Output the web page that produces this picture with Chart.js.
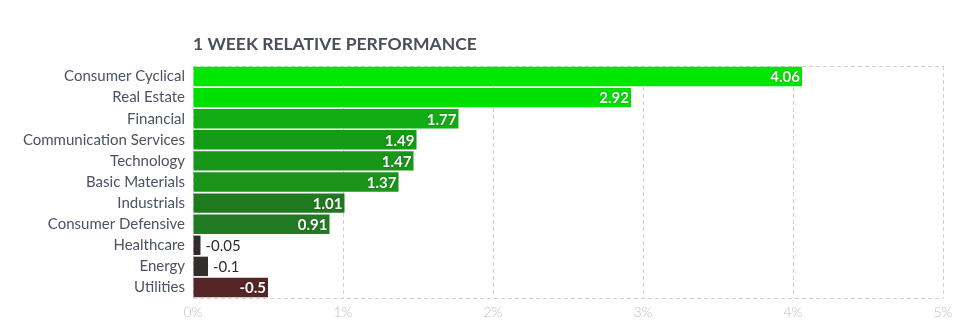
<!DOCTYPE html>
<html>
<head>
<meta charset="utf-8">
<script src="https://cdn.jsdelivr.net/npm/chart.js@4.4.1/dist/chart.umd.min.js"></script>
<style>
  html, body { margin: 0; padding: 0; background: #fff; }
  #wrap { position: relative; width: 975px; height: 332px; }
</style>
</head>
<body>
<div id="wrap"><canvas id="perfChart" width="975" height="332"></canvas></div>
<script>
// 1 week relative performance by sector (%)
const sectors = [
  "Consumer Cyclical", "Real Estate", "Financial", "Communication Services",
  "Technology", "Basic Materials", "Industrials", "Consumer Defensive",
  "Healthcare", "Energy", "Utilities"
];
const weekChange = [4.06, 2.92, 1.77, 1.49, 1.47, 1.37, 1.01, 0.91, -0.05, -0.1, -0.5];
const barColors = [
  "#00e600", "#00e000", "#12ad12", "#159a15", "#179617", "#1a951a",
  "#1f7a1f", "#227a22", "#332b2b", "#332e2e", "#562525"
];
const xTicks = ["0%", "1%", "2%", "3%", "4%", "5%"];

const FONT = "Lato, 'Open Sans', sans-serif";

// title + dashed top/bottom frame + value labels
const decorPlugin = {
  id: "decor",
  beforeDatasetsDraw(chart) {
    const { ctx, chartArea: a } = chart;
    ctx.save();
    ctx.strokeStyle = "#d0d0d0";
    ctx.lineWidth = 1;
    ctx.setLineDash([4, 3]);
    ctx.beginPath();
    ctx.moveTo(a.left, a.top + 0.5); ctx.lineTo(a.right, a.top + 0.5);
    ctx.moveTo(a.left, a.bottom + 0.5); ctx.lineTo(a.right, a.bottom + 0.5);
    ctx.stroke();
    ctx.restore();
  },
  afterDatasetsDraw(chart) {
    const { ctx, chartArea: a } = chart;
    ctx.save();
    ctx.font = "bold 17.5px " + FONT;
    ctx.fillStyle = "#4a4f5c";
    ctx.textBaseline = "alphabetic";
    ctx.textAlign = "left";
    ctx.fillText("1 WEEK RELATIVE PERFORMANCE", a.left, 50);

    const meta = chart.getDatasetMeta(0);
    const x0 = chart.scales.x.getPixelForValue(0);
    meta.data.forEach((bar, i) => {
      const txt = String(weekChange[i]);
      const w = bar.x - x0;
      ctx.font = "bold 15px " + FONT;
      const tw = ctx.measureText(txt).width;
      ctx.textBaseline = "middle";
      if (w > tw + 8) {
        ctx.textAlign = "right";
        ctx.fillStyle = "#fff";
        ctx.shadowColor = "rgba(0,0,0,0.35)";
        ctx.shadowBlur = 2;
        ctx.fillText(txt, bar.x - 2, bar.y + 1);
        ctx.shadowBlur = 0;
      } else {
        ctx.font = "15px " + FONT;
        ctx.textAlign = "left";
        ctx.fillStyle = "#2e2e2e";
        ctx.fillText(txt, bar.x + 5, bar.y + 1);
      }
    });
    ctx.restore();
  }
};

new Chart(document.getElementById("perfChart"), {
  type: "bar",
  data: {
    labels: sectors,
    datasets: [{
      data: weekChange.map(v => Math.abs(v)),
      backgroundColor: barColors,
      borderWidth: 0,
      barPercentage: 0.92,
      categoryPercentage: 1
    }]
  },
  options: {
    indexAxis: "y",
    responsive: false,
    animation: false,
    layout: { padding: { top: 66, right: 32, bottom: 0, left: 0 } },
    plugins: { legend: { display: false }, tooltip: { enabled: false } },
    scales: {
      x: {
        min: 0, max: 5,
        afterFit: s => { s.height = 34; },
        border: { display: false, dash: [4, 3] },
        grid: { color: "#d0d0d0", drawTicks: false },
        ticks: {
          stepSize: 1,
          padding: 6,
          color: "#bdbdbd",
          font: { family: FONT, size: 14, weight: 300 },
          callback: (v, i) => xTicks[i]
        }
      },
      y: {
        afterFit: s => { s.width = 193; },
        border: { display: false },
        grid: { display: false, drawTicks: false },
        ticks: {
          padding: 8,
          color: "#4b5263",
          font: { family: FONT, size: 15 }
        }
      }
    }
  },
  plugins: [decorPlugin]
});
</script>
</body>
</html>
